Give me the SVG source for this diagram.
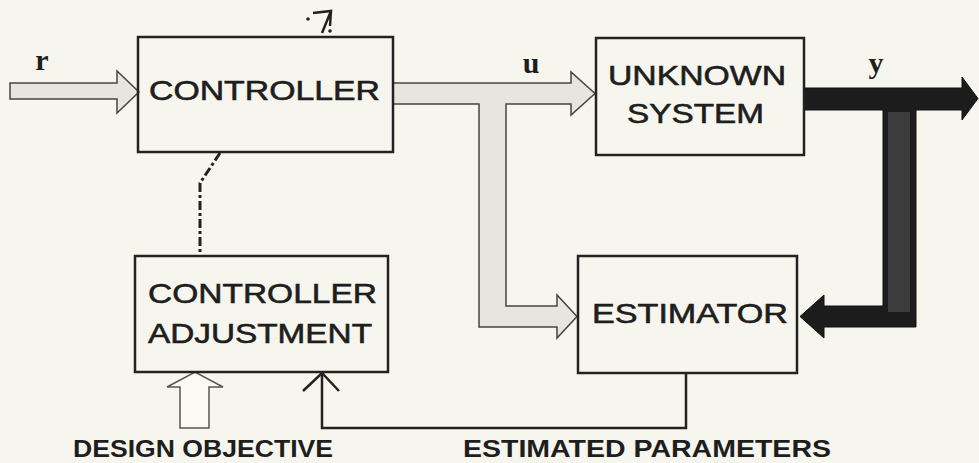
<svg xmlns="http://www.w3.org/2000/svg" width="979" height="463" viewBox="0 0 979 463">
<style>
.box{fill:none;stroke:#222;stroke-width:2.5}
.lbl{font-family:"Liberation Sans",Arial,sans-serif;font-size:28px;fill:#1e1e1e;stroke:#1e1e1e;stroke-width:0.6}
.cap{font-family:"Liberation Sans",Arial,sans-serif;font-size:23px;font-weight:bold;fill:#1e1e1e}
.var{font-family:"Liberation Serif","Times New Roman",serif;font-weight:bold;fill:#1e1e1e}
.light{fill:#e6e6df;stroke:#444;stroke-width:1.5}
.line{fill:none;stroke:#222;stroke-width:2.5}
</style>
<rect width="979" height="463" fill="#f7f6ee"/>
<g id="connectors">
<polygon class="light" points="10,83 117,83 117,71 139,92 117,113 117,99 10,99"/>
<path class="light" d="M393,83 L571,83 L571,72 L595,93.5 L571,115 L571,104 L506,104 L506,306 L557,306 L557,295 L577,316.5 L557,338 L557,327 L479,327 L479,104 L393,104 Z"/>
<path d="M804,88 L962,88 L962,77 L978,98.5 L962,120 L962,110 L916,110 L916,327 L824,327 L824,338 L800,316.5 L824,295 L824,306 L883,306 L883,110 L804,110 Z" fill="#1c1c1c" stroke="#111" stroke-width="1"/>
<rect x="888" y="112" width="22" height="200" fill="#3c3c3c"/>
<polygon points="180,428 180,387 167,387 195,372 223,387 209,387 209,428" fill="#faf9f3" stroke="#555" stroke-width="1.5"/>
<polyline class="line" points="686,373 686,428 322,428 322,374"/>
<polyline class="line" points="303,391 322,373 339,391"/>
<path d="M220,153 L200,183 L200,256" fill="none" stroke="#222" stroke-width="3" stroke-dasharray="9 3 3 3"/>
<path d="M322,33 L331,11 M313,13 L331,11 L330,26" fill="none" stroke="#222" stroke-width="2.5"/>
<circle cx="330" cy="31" r="1.8" fill="#222"/>
<circle cx="308" cy="19" r="1.8" fill="#222"/>
</g>
<g id="label-r"><text class="var" x="42" y="70" font-size="30" text-anchor="middle">r</text></g>
<g id="label-u"><text class="var" x="531" y="73" font-size="30" text-anchor="middle">u</text></g>
<g id="label-y"><text class="var" x="876" y="73" font-size="30" text-anchor="middle">y</text></g>
<g id="controller">
<rect class="box" x="138" y="37" width="255" height="115"/>
<text class="lbl" x="149" y="100" textLength="231" lengthAdjust="spacingAndGlyphs">CONTROLLER</text>
</g>
<g id="unknown-system">
<rect class="box" x="596" y="38" width="208" height="117"/>
<text class="lbl" x="608" y="85" textLength="178" lengthAdjust="spacingAndGlyphs">UNKNOWN</text>
<text class="lbl" x="627" y="123" textLength="137" lengthAdjust="spacingAndGlyphs">SYSTEM</text>
</g>
<g id="estimator">
<rect class="box" x="578" y="256" width="219" height="117"/>
<text class="lbl" x="592" y="323" textLength="196" lengthAdjust="spacingAndGlyphs">ESTIMATOR</text>
</g>
<g id="controller-adjustment">
<rect class="box" x="135" y="256" width="253" height="116"/>
<text class="lbl" x="148" y="303" textLength="229" lengthAdjust="spacingAndGlyphs">CONTROLLER</text>
<text class="lbl" x="148" y="343" textLength="224" lengthAdjust="spacingAndGlyphs">ADJUSTMENT</text>
</g>
<g id="design-objective"><text class="cap" x="73" y="457" textLength="260" lengthAdjust="spacingAndGlyphs">DESIGN OBJECTIVE</text></g>
<g id="estimated-parameters"><text class="cap" x="463" y="457" textLength="368" lengthAdjust="spacingAndGlyphs">ESTIMATED PARAMETERS</text></g>
</svg>
